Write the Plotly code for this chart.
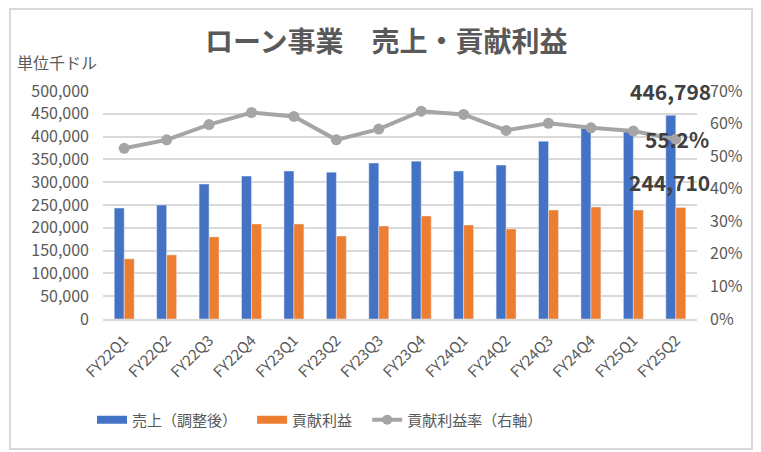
import plotly.graph_objects as go

quarters = ["FY22Q1", "FY22Q2", "FY22Q3", "FY22Q4", "FY23Q1", "FY23Q2", "FY23Q3",
            "FY23Q4", "FY24Q1", "FY24Q2", "FY24Q3", "FY24Q4", "FY25Q1", "FY25Q2"]
# 売上（調整後）, 千ドル
sales = [243400, 250000, 296000, 313500, 324500, 322000, 342000,
         346200, 324500, 337500, 390000, 417700, 410300, 446798]
# 貢献利益, 千ドル
contribution = [131900, 140600, 180000, 208400, 208400, 182000, 204000,
                226000, 206000, 197500, 239000, 245600, 239000, 244710]
# 貢献利益率
margin = [0.524, 0.550, 0.597, 0.634, 0.622, 0.550, 0.583,
          0.638, 0.628, 0.579, 0.601, 0.587, 0.577, 0.552]

FONT = "Noto Sans CJK JP"
GRAY = "#595959"
BLUE = "#4472C4"
ORANGE = "#ED7D31"
LINE = "#A5A5A5"

fig = go.Figure()
fig.add_trace(go.Bar(x=quarters, y=sales, name="売上（調整後）", marker_color=BLUE,
                     showlegend=False))
fig.add_trace(go.Bar(x=quarters, y=contribution, name="貢献利益", marker_color=ORANGE,
                     showlegend=False))
fig.add_trace(go.Scatter(x=quarters, y=margin, name="貢献利益率（右軸）", yaxis="y2",
                         mode="lines+markers", showlegend=False,
                         line=dict(color=LINE, width=4),
                         marker=dict(color=LINE, size=11)))

# legend entries (wide swatches like Excel), a bit of trailing space between items
fig.add_trace(go.Scatter(x=[None], y=[None], name="売上（調整後）&nbsp;&nbsp;&nbsp;", mode="lines",
                         line=dict(color=BLUE, width=8)))
fig.add_trace(go.Scatter(x=[None], y=[None], name="貢献利益&nbsp;&nbsp;&nbsp;", mode="lines",
                         line=dict(color=ORANGE, width=8)))
fig.add_trace(go.Scatter(x=[None], y=[None], name="貢献利益率（右軸）", mode="lines+markers",
                         line=dict(color=LINE, width=4), marker=dict(color=LINE, size=10)))

# data labels on the last quarter
lab_font = dict(family=FONT, size=21, color="#404040", weight="bold")
fig.add_annotation(x=quarters[-1], y=sales[-1], text=f"{sales[-1]:,}", showarrow=False,
                   xshift=-5, yshift=7, yanchor="bottom", font=lab_font)
fig.add_annotation(x=quarters[-1], y=contribution[-1], text=f"{contribution[-1]:,}", showarrow=False,
                   xshift=-6, yshift=8, yanchor="bottom", font=lab_font)
fig.add_annotation(x=quarters[-1], y=margin[-1], yref="y2", text=f"{margin[-1]*100:.1f}%",
                   showarrow=False, xshift=1, font=lab_font)

fig.add_annotation(x=-0.148, y=1.127, xref="paper", yref="paper", text="単位千ドル",
                   showarrow=False, xanchor="left", yanchor="middle",
                   font=dict(family=FONT, size=16, color=GRAY))

# page body has an 8px margin, so the layout is shifted up/left by 8px
fig.update_layout(
    width=761, height=452,
    margin=dict(l=95, r=72, t=83, b=141),
    paper_bgcolor="white", plot_bgcolor="white",
    barmode="group", bargap=0.53, bargroupgap=0,
    font=dict(family=FONT, color=GRAY, size=15),
    title=dict(text="ローン事業　売上・貢献利益", x=0.497, xanchor="center",
               y=0.925, yanchor="middle",
               font=dict(family=FONT, size=28, color=GRAY, weight="bold")),
    xaxis=dict(tickangle=-45, tickfont=dict(size=15), showline=True, automargin=False,
               range=[-0.5, len(quarters) - 0.5],
               linecolor="#D9D9D9", linewidth=1.5, ticks="", ticklabelstandoff=5),
    yaxis=dict(range=[0, 500000], dtick=50000, tickformat=",", showgrid=True,
               gridcolor="#D9D9D9", gridwidth=1.5, zeroline=False, ticks="",
               automargin=False, tickfont=dict(size=16), ticklabelstandoff=13),
    yaxis2=dict(overlaying="y", side="right", range=[0, 0.7], dtick=0.1,
                tickformat=".0%", showgrid=False, zeroline=False, automargin=False,
                tickfont=dict(size=16), ticklabelstandoff=12),
    legend=dict(orientation="h", xref="container", yref="container",
                x=0.41, xanchor="center", y=0.0885, yanchor="middle",
                font=dict(size=15), traceorder="normal"),
    shapes=[dict(type="rect", xref="paper", yref="paper", x0=-0.1566, x1=1.0926,
                 y0=-0.57, y1=1.3596, line=dict(color="#D9D9D9", width=2))],
)

fig.write_html("out.html")
